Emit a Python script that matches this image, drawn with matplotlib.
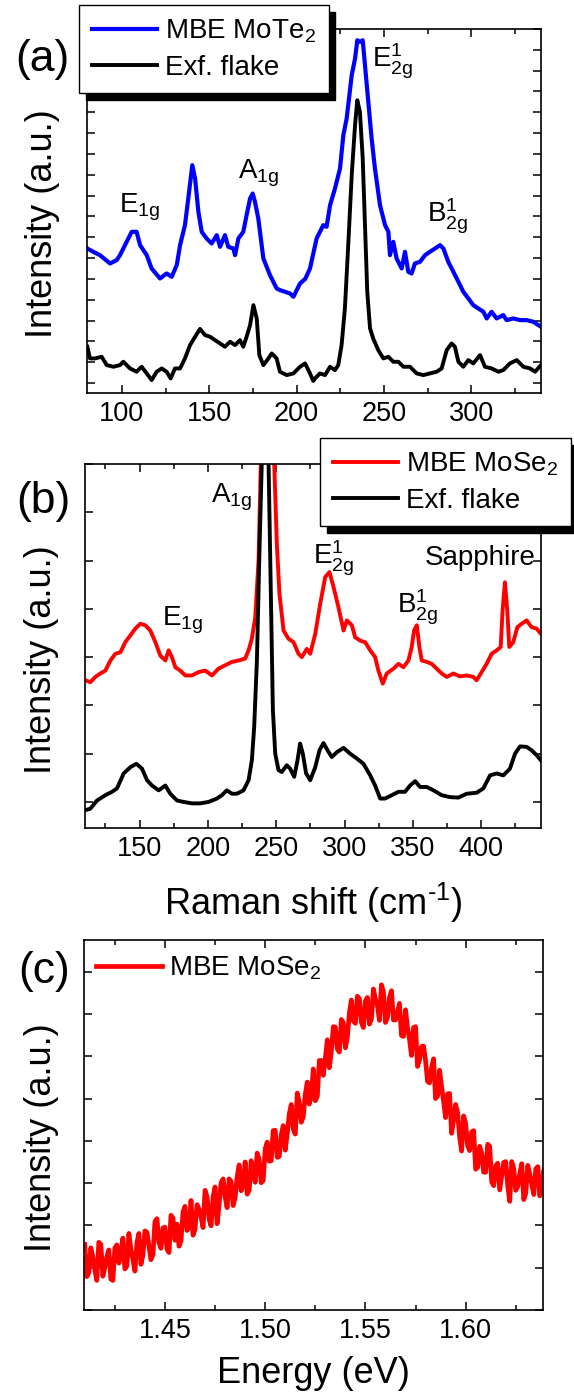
import numpy as np
import matplotlib
matplotlib.use('Agg')
import matplotlib.pyplot as plt
from matplotlib.ticker import MultipleLocator

plt.rcParams['font.family'] = ['Liberation Sans', 'DejaVu Sans']
plt.rcParams['mathtext.default'] = 'regular'

# (a) Raman, MoTe2 (intensity in arbitrary units, offset traces)
shift_a_mbe = [80.2, 83.6, 87.4, 93.2, 97.0, 98.9, 102.7, 105.6, 108.4, 110.4,
               114.2, 117.0, 121.8, 125.6, 128.5, 131.4, 133.3, 136.1, 138.0, 140.3,
               141.9, 143.8, 145.7, 148.5, 151.4, 154.3, 156.2, 159.0, 160.9, 163.8,
               164.8, 166.7, 169.5, 171.4, 173.4, 174.9, 176.2, 178.1, 181.0, 184.8,
               188.6, 190.5, 193.4, 196.3, 198.2, 202.0, 205.0, 207.7, 211.5, 215.3,
               217.2, 219.2, 222.0, 224.9, 226.8, 228.7, 231.6, 233.5, 234.8, 236.3,
               237.9, 239.2, 241.1, 243.0, 244.9, 247.8, 250.7, 252.6, 253.5, 255.4,
               257.3, 260.2, 262.1, 264.0, 265.9, 267.8, 270.7, 273.6, 276.4, 279.3,
               282.2, 284.1, 286.9, 289.8, 292.7, 295.5, 298.4, 301.2, 304.1, 307.0,
               308.9, 311.7, 314.6, 318.4, 320.3, 324.2, 328.0, 331.8, 335.6, 340.0]
int_a_mbe = [3.23, 3.15, 3.07, 2.87, 2.95, 3.07, 3.39, 3.63, 3.63, 3.31,
             3.07, 2.75, 2.51, 2.63, 2.55, 2.83, 3.31, 3.79, 4.43, 5.23,
             4.91, 4.11, 3.63, 3.47, 3.35, 3.55, 3.27, 3.55, 3.27, 3.23,
             3.07, 3.47, 3.63, 4.03, 4.43, 4.55, 4.35, 3.95, 2.99, 2.59,
             2.27, 2.23, 2.19, 2.15, 2.07, 2.39, 2.50, 2.75, 3.47, 3.79,
             3.75, 4.27, 4.67, 5.15, 5.95, 6.35, 7.39, 7.79, 8.23, 8.19,
             8.23, 7.63, 6.75, 5.87, 5.15, 4.27, 3.79, 3.63, 3.07, 3.39,
             2.99, 2.75, 3.15, 2.67, 2.63, 2.87, 2.91, 3.07, 3.15, 3.23,
             3.31, 3.23, 2.91, 2.67, 2.43, 2.19, 2.03, 1.87, 1.79, 1.71,
             1.55, 1.71, 1.55, 1.63, 1.51, 1.55, 1.51, 1.51, 1.47, 1.35]
shift_a_flake = [80.2, 81.7, 84.6, 88.4, 91.3, 95.1, 98.9, 100.8, 104.6, 108.4,
                 111.3, 114.2, 117.0, 119.9, 122.8, 125.6, 127.9, 130.4, 133.3, 136.1,
                 139.0, 141.9, 144.7, 147.6, 150.5, 153.3, 156.2, 159.0, 161.9, 164.8,
                 167.6, 169.5, 171.4, 173.4, 175.3, 177.2, 178.7, 181.0, 183.9, 185.8,
                 188.6, 190.5, 194.4, 198.2, 202.0, 204.9, 207.7, 209.6, 210.6, 213.4,
                 216.3, 219.2, 222.0, 223.9, 225.8, 227.7, 229.7, 231.6, 233.5, 234.8,
                 236.3, 237.9, 239.2, 240.5, 242.1, 243.9, 246.8, 249.7, 252.6, 255.4,
                 258.3, 261.2, 265.0, 268.8, 272.6, 276.4, 280.2, 283.1, 286.0, 288.8,
                 290.7, 292.7, 295.5, 298.4, 301.2, 305.1, 307.9, 311.7, 315.6, 318.4,
                 322.2, 326.1, 329.9, 333.7, 336.6, 340.0]
int_a_flake = [0.87, 0.59, 0.59, 0.63, 0.43, 0.39, 0.43, 0.51, 0.35, 0.27,
               0.39, 0.23, 0.07, 0.27, 0.35, 0.27, 0.11, 0.35, 0.35, 0.59,
               0.91, 1.11, 1.30, 1.15, 1.11, 1.03, 0.95, 0.87, 0.99, 0.91,
               1.03, 0.87, 1.11, 1.39, 1.87, 1.55, 0.67, 0.43, 0.59, 0.71,
               0.59, 0.27, 0.19, 0.23, 0.39, 0.47, 0.23, 0.05, 0.11, 0.23,
               0.19, 0.39, 0.31, 0.43, 0.91, 1.79, 3.39, 4.99, 6.19, 6.79,
               6.51, 5.39, 3.79, 2.19, 1.31, 1.07, 0.79, 0.59, 0.63, 0.51,
               0.51, 0.39, 0.39, 0.23, 0.19, 0.23, 0.27, 0.35, 0.79, 0.95,
               0.87, 0.51, 0.39, 0.55, 0.47, 0.67, 0.39, 0.35, 0.27, 0.31,
               0.47, 0.55, 0.39, 0.35, 0.27, 0.43]

# (b) Raman, MoSe2
shift_b_mbe = [110.3, 113.9, 117.6, 121.2, 124.9, 128.6, 132.2, 135.9, 139.5, 143.2,
               146.8, 150.5, 154.1, 157.8, 161.5, 165.1, 168.8, 171.2, 173.6, 176.1,
               179.7, 183.4, 188.3, 193.1, 198.0, 202.9, 207.7, 212.6, 217.5, 222.4,
               227.2, 229.7, 232.1, 234.6, 237.0, 238.7, 243.3, 248.4, 250.4, 252.3,
               255.3, 258.9, 262.6, 266.2, 268.7, 272.3, 274.8, 278.5, 282.1, 285.8,
               288.9, 291.9, 295.5, 299.2, 301.6, 305.3, 307.7, 311.4, 315.0, 318.7,
               322.3, 324.7, 327.9, 330.8, 335.7, 339.4, 343.0, 346.7, 349.1, 350.8,
               352.8, 354.7, 356.4, 360.1, 363.7, 367.4, 371.0, 374.7, 379.6, 384.4,
               389.3, 394.2, 396.6, 400.3, 403.9, 407.6, 411.3, 414.2, 415.6, 417.3,
               419.0, 420.5, 423.4, 426.4, 429.5, 433.2, 436.8, 440.5, 443.7]
int_b_mbe = [2.52, 2.48, 2.59, 2.66, 2.72, 2.93, 3.07, 3.10, 3.31, 3.45,
             3.59, 3.69, 3.66, 3.55, 3.31, 3.03, 2.93, 3.14, 3.00, 2.79,
             2.72, 2.62, 2.62, 2.69, 2.72, 2.62, 2.76, 2.83, 2.90, 2.93,
             2.97, 3.14, 3.38, 3.83, 5.00, 7.07, 15.0, 7.07, 5.34, 4.31,
             3.55, 3.38, 3.31, 3.07, 3.00, 3.17, 3.07, 3.48, 4.10, 4.66,
             4.76, 4.45, 4.03, 3.55, 3.76, 3.66, 3.41, 3.34, 3.31, 3.14,
             3.00, 2.72, 2.45, 2.66, 2.76, 2.86, 2.79, 2.93, 3.21, 3.55,
             3.66, 3.21, 2.93, 2.90, 2.86, 2.76, 2.66, 2.59, 2.66, 2.60,
             2.62, 2.59, 2.52, 2.69, 2.86, 3.07, 3.14, 3.21, 3.97, 4.55,
             3.97, 3.21, 3.31, 3.62, 3.69, 3.76, 3.62, 3.59, 3.48]
shift_b_flake = [110.3, 113.9, 118.8, 124.9, 129.8, 133.4, 138.3, 143.2, 147.6, 151.7,
                 155.4, 159.0, 163.9, 168.8, 172.4, 177.3, 182.2, 188.3, 194.3, 200.4,
                 206.5, 210.2, 213.8, 217.5, 221.1, 226.0, 229.7, 232.1, 233.8, 235.8,
                 237.5, 239.4, 241.8, 244.3, 246.0, 247.5, 249.2, 251.6, 254.0, 257.7,
                 260.1, 263.1, 265.5, 267.4, 269.4, 271.8, 274.8, 278.5, 281.6, 284.5,
                 287.5, 290.6, 294.3, 299.2, 304.0, 308.9, 313.8, 318.7, 322.3, 326.0,
                 329.6, 334.5, 339.4, 344.2, 347.9, 351.6, 355.2, 360.1, 365.0, 371.0,
                 377.1, 383.2, 389.3, 396.6, 401.5, 406.4, 411.3, 416.1, 421.0, 424.7,
                 428.3, 433.2, 436.8, 440.5, 443.7]
int_b_flake = [-0.17, -0.14, 0.03, 0.14, 0.21, 0.28, 0.59, 0.72, 0.79, 0.69,
               0.45, 0.34, 0.24, 0.34, 0.17, 0.03, 0.00, -0.03, -0.03, 0.00,
               0.07, 0.14, 0.24, 0.17, 0.17, 0.24, 0.45, 0.86, 1.55, 2.93,
               5.00, 7.07, 14.0, 7.07, 4.31, 1.90, 1.00, 0.66, 0.62, 0.76,
               0.69, 0.52, 0.86, 1.21, 1.00, 0.59, 0.45, 0.72, 1.07, 1.22,
               1.07, 0.93, 1.03, 1.12, 1.00, 0.90, 0.79, 0.55, 0.34, 0.07,
               0.07, 0.14, 0.21, 0.21, 0.34, 0.43, 0.31, 0.31, 0.24, 0.14,
               0.10, 0.09, 0.17, 0.19, 0.28, 0.55, 0.59, 0.55, 0.69, 1.00,
               1.15, 1.14, 1.07, 0.97, 0.86]

# (c) PL, MBE MoSe2 (1 meV steps)
energy_c = [1.410, 1.411, 1.412, 1.413, 1.414, 1.415, 1.416, 1.417, 1.418, 1.419,
            1.420, 1.421, 1.422, 1.423, 1.424, 1.425, 1.426, 1.427, 1.428, 1.429,
            1.430, 1.431, 1.432, 1.433, 1.434, 1.435, 1.436, 1.437, 1.438, 1.439,
            1.440, 1.441, 1.442, 1.443, 1.444, 1.445, 1.446, 1.447, 1.448, 1.449,
            1.450, 1.451, 1.452, 1.453, 1.454, 1.455, 1.456, 1.457, 1.458, 1.459,
            1.460, 1.461, 1.462, 1.463, 1.464, 1.465, 1.466, 1.467, 1.468, 1.469,
            1.470, 1.471, 1.472, 1.473, 1.474, 1.475, 1.476, 1.477, 1.478, 1.479,
            1.480, 1.481, 1.482, 1.483, 1.484, 1.485, 1.486, 1.487, 1.488, 1.489,
            1.490, 1.491, 1.492, 1.493, 1.494, 1.495, 1.496, 1.497, 1.498, 1.499,
            1.500, 1.501, 1.502, 1.503, 1.504, 1.505, 1.506, 1.507, 1.508, 1.509,
            1.510, 1.511, 1.512, 1.513, 1.514, 1.515, 1.516, 1.517, 1.518, 1.519,
            1.520, 1.521, 1.522, 1.523, 1.524, 1.525, 1.526, 1.527, 1.528, 1.529,
            1.530, 1.531, 1.532, 1.533, 1.534, 1.535, 1.536, 1.537, 1.538, 1.539,
            1.540, 1.541, 1.542, 1.543, 1.544, 1.545, 1.546, 1.547, 1.548, 1.549,
            1.550, 1.551, 1.552, 1.553, 1.554, 1.555, 1.556, 1.557, 1.558, 1.559,
            1.560, 1.561, 1.562, 1.563, 1.564, 1.565, 1.566, 1.567, 1.568, 1.569,
            1.570, 1.571, 1.572, 1.573, 1.574, 1.575, 1.576, 1.577, 1.578, 1.579,
            1.580, 1.581, 1.582, 1.583, 1.584, 1.585, 1.586, 1.587, 1.588, 1.589,
            1.590, 1.591, 1.592, 1.593, 1.594, 1.595, 1.596, 1.597, 1.598, 1.599,
            1.600, 1.601, 1.602, 1.603, 1.604, 1.605, 1.606, 1.607, 1.608, 1.609,
            1.610, 1.611, 1.612, 1.613, 1.614, 1.615, 1.616, 1.617, 1.618, 1.619,
            1.620, 1.621, 1.622, 1.623, 1.624, 1.625, 1.626, 1.627, 1.628, 1.629,
            1.630, 1.631, 1.632, 1.633, 1.634, 1.635, 1.636, 1.637, 1.638, 1.639,
            1.640]
pl_c = [0.55, -0.21, -0.12, 0.47, 0.26, -0.05, -0.30, 0.60, 0.55, -0.20,
        0.00, 0.26, 0.42, -0.27, -0.30, 0.47, 0.54, 0.11, 0.33, 0.70,
        -0.03, 0.04, 0.81, 0.43, 0.20, -0.08, 0.59, 0.81, 0.08, 0.30,
        0.87, 0.84, 0.51, 0.19, 0.31, 1.09, 1.16, 0.59, 0.46, 0.94,
        0.96, 0.44, 0.36, 1.24, 1.17, 0.65, 1.03, 0.51, 0.64, 1.32,
        1.45, 0.88, 0.96, 1.59, 0.77, 0.91, 1.49, 1.38, 1.21, 0.95,
        1.83, 1.67, 1.15, 0.99, 1.67, 1.91, 1.04, 1.48, 2.01, 2.10,
        1.68, 1.42, 2.10, 2.04, 1.47, 1.66, 2.14, 2.43, 1.82, 1.96,
        2.50, 1.74, 1.83, 2.53, 2.32, 2.02, 2.71, 2.56, 2.01, 2.06,
        2.81, 2.97, 2.52, 2.53, 3.24, 3.25, 2.61, 2.63, 3.14, 3.36,
        2.78, 3.16, 3.63, 3.86, 3.28, 3.16, 4.13, 3.91, 3.44, 3.57,
        4.10, 4.39, 3.87, 4.06, 4.70, 3.95, 4.05, 4.90, 4.90, 4.55,
        4.95, 5.39, 4.73, 5.12, 5.70, 5.69, 5.17, 5.10, 5.87, 5.79,
        5.20, 5.46, 6.02, 6.33, 5.83, 5.78, 6.42, 6.36, 5.80, 5.68,
        6.31, 6.39, 5.76, 5.88, 6.59, 6.35, 6.20, 5.85, 6.69, 6.52,
        5.80, 5.92, 6.39, 6.55, 5.86, 5.86, 6.06, 6.25, 5.49, 5.47,
        6.10, 5.68, 5.40, 5.02, 5.68, 5.70, 4.76, 4.92, 5.23, 5.24,
        4.90, 4.41, 4.37, 4.73, 4.94, 4.00, 4.06, 4.67, 4.28, 3.94,
        3.55, 4.11, 4.12, 3.18, 3.49, 3.86, 3.67, 3.09, 2.76, 3.59,
        3.41, 2.89, 2.77, 3.21, 3.24, 2.33, 2.37, 2.87, 2.71, 2.26,
        2.26, 2.92, 2.87, 2.03, 1.94, 2.41, 2.47, 1.84, 2.16, 2.49,
        2.51, 1.94, 1.57, 2.51, 2.34, 1.83, 1.92, 2.22, 2.46, 1.61,
        1.76, 2.42, 2.22, 1.98, 1.73, 2.34, 2.39, 1.70, 1.90, 2.31,
        2.21]

W, H = 574, 1392
fig = plt.figure(figsize=(W / 100, H / 100), dpi=100)


def px_axes(left, top, right, bottom):
    return fig.add_axes([left / W, 1 - bottom / H, (right - left) / W, (bottom - top) / H])


def style(ax, xmajor, xminor, ystep):
    ax.xaxis.set_major_locator(MultipleLocator(xmajor))
    ax.xaxis.set_minor_locator(MultipleLocator(xminor))
    ax.yaxis.set_major_locator(MultipleLocator(ystep))
    ax.tick_params(which='both', direction='in', top=True, right=True,
                   labelleft=False, width=1.1, labelsize=19.5, pad=6)
    ax.tick_params(which='major', length=5.5)
    ax.tick_params(which='minor', length=3.5)
    for s in ax.spines.values():
        s.set_linewidth(1.2)


def box_legend(ax, anchor):
    leg = ax.legend(loc='upper left', bbox_to_anchor=anchor,
                    bbox_transform=fig.transFigure, fontsize=20,
                    fancybox=False, edgecolor='k', framealpha=1,
                    borderaxespad=0, borderpad=0.45, labelspacing=0.35,
                    handlelength=2.35, handletextpad=0.3,
                    shadow={'ox': 4.7, 'oy': -4.7, 'facecolor': 'k',
                            'edgecolor': 'k', 'alpha': 1})
    leg.get_frame().set_linewidth(1.0)
    return leg


# ---- (a)
ax_a = px_axes(87, 29, 541, 393)
ax_a.plot(shift_a_mbe, int_a_mbe, color='#0000ff', lw=3.0, label='MBE MoTe$_2$')
ax_a.plot(shift_a_flake, int_a_flake, color='k', lw=2.8, label='Exf. flake')
ax_a.set_xlim(80, 340)
ax_a.set_ylim(-0.24, 8.5)
style(ax_a, 50, 25, 0.5)
ax_a.set_ylabel('Intensity (a.u.)', fontsize=26)
ax_a.yaxis.set_label_coords(-0.06, 0.464)
box_legend(ax_a, (79 / W, 1 - 5 / H))
ax_a.text(98.3, 4.1, 'E$_{1g}$', fontsize=20, va='baseline')
ax_a.text(166.5, 4.92, 'A$_{1g}$', fontsize=20, va='baseline')
ax_a.text(243.2, 7.58, 'E$^1_{2g}$', fontsize=20, va='baseline')
ax_a.text(274.7, 3.86, 'B$^1_{2g}$', fontsize=20, va='baseline')
fig.text(15 / W, 1 - 60 / H, '(a)', fontsize=32, va='center', ha='left')

# ---- (b)
ax_b = px_axes(85, 464, 541, 828)
ax_b.plot(shift_b_mbe, int_b_mbe, color='#ff0000', lw=2.8, label='MBE MoSe$_2$')
ax_b.plot(shift_b_flake, int_b_flake, color='k', lw=2.8, label='Exf. flake')
ax_b.set_xlim(110, 443.7)
ax_b.set_ylim(-0.54, 7.0)
style(ax_b, 50, 25, 1)
ax_b.set_ylabel('Intensity (a.u.)', fontsize=26)
ax_b.yaxis.set_label_coords(-0.058, 0.4615)
ax_b.set_xlabel('Raman shift (cm$^{\u2010 1}$)', fontsize=26)
ax_b.xaxis.set_label_coords(0.5, -0.145)
box_legend(ax_b, (320 / W, 1 - 438 / H))
ax_b.text(202.4, 6.21, 'A$_{1g}$', fontsize=20, va='baseline')
ax_b.text(166.4, 3.66, 'E$_{1g}$', fontsize=20, va='baseline')
ax_b.text(277.2, 4.92, 'E$^1_{2g}$', fontsize=20, va='baseline')
ax_b.text(338.6, 3.9, 'B$^1_{2g}$', fontsize=20, va='baseline')
ax_b.text(358.9, 4.9, 'Sapphire', fontsize=20, va='baseline')
fig.text(16.5 / W, 1 - 501 / H, '(b)', fontsize=32, va='center', ha='left')

# ---- (c)
ax_c = px_axes(84, 940, 543, 1310)
ax_c.plot(energy_c, pl_c, color='#ff0000', lw=3.4, label='MBE MoSe$_2$')
ax_c.set_xlim(1.4096, 1.6386)
ax_c.set_ylim(-1.0, 7.75)
style(ax_c, 0.05, 0.025, 1)
ax_c.xaxis.set_major_formatter(plt.FormatStrFormatter('%.2f'))
ax_c.set_ylabel('Intensity (a.u.)', fontsize=26)
ax_c.yaxis.set_label_coords(-0.054, 0.466)
ax_c.set_xlabel('Energy (eV)', fontsize=26)
ax_c.xaxis.set_label_coords(0.5, -0.124)
ax_c.legend(loc='center left', bbox_to_anchor=(95.5 / W, 1 - 968 / H),
            bbox_transform=fig.transFigure, frameon=False, fontsize=20,
            borderaxespad=0, borderpad=0, handlelength=2.4, handletextpad=0.25)
fig.text(18.5 / W, 1 - 972 / H, '(c)', fontsize=32, va='center', ha='left')

fig.savefig('out.png', dpi=100)
